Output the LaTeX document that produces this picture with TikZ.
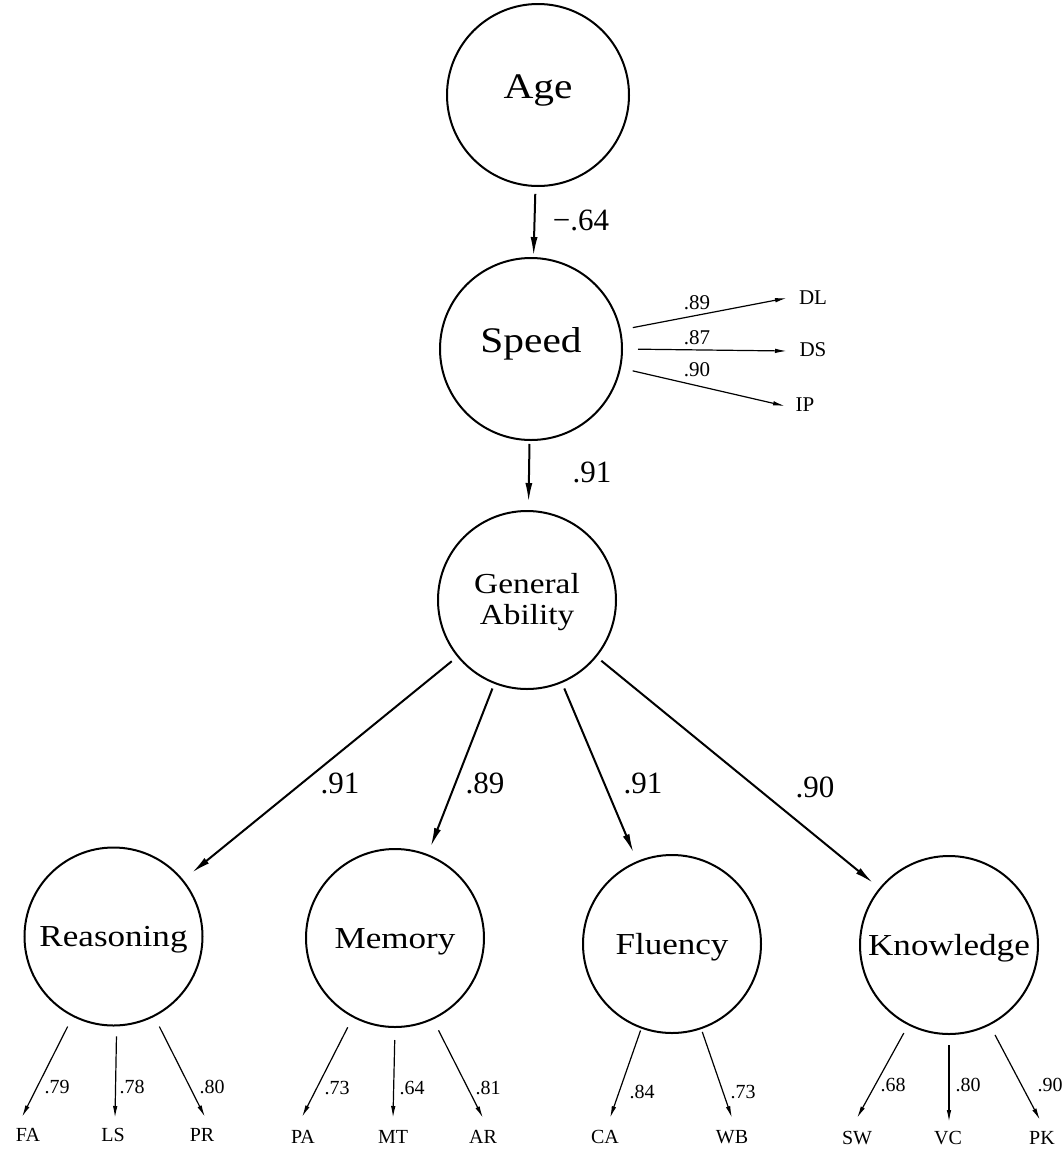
\documentclass[tikz,border=0pt]{standalone}
\usepackage{fontspec}
\usepackage{graphicx}
\setmainfont{Liberation Serif}
\usetikzlibrary{arrows.meta}
\newcommand\wideText[1]{\scalebox{1.15}[1]{#1}}
\begin{document}
\begin{tikzpicture}[x=1pt,y=-1pt,
  latent/.style={draw, circle, line width=2pt, inner sep=0pt, minimum size=178pt},
  toplatent/.style={latent, minimum size=182pt, font=\fontsize{36}{40}\selectfont, text height=26pt, text depth=20pt},
  botlatent/.style={latent, font=\fontsize{30.5}{34}\selectfont, text height=24pt, text depth=4pt},
  bigarrow/.style={line width=2pt, -{Latex[length=19pt,width=7pt]}},
  smallarrow/.style={line width=1.2pt, -{Latex[length=12pt,width=4.5pt]}},
  bignum/.style={font=\fontsize{31}{36}\selectfont, inner sep=0pt},
  midtext/.style={font=\fontsize{21}{24}\selectfont, inner sep=0pt},
  smalltext/.style={font=\fontsize{20}{24}\selectfont, inner sep=0pt},
]
\useasboundingbox (0,0) rectangle (1064,1152);

% latent variables
\node[toplatent] (age) at (538,95) {\wideText{Age}};
\node[toplatent] (speed) at (531,349) {\wideText{Speed}};
\node[latent, align=center, font=\fontsize{29}{31}\selectfont] (ga) at (527,600) {\rule{0pt}{25pt}\wideText{General}\\\wideText{Ability}};
\node[botlatent] (reason) at (113.5,936.5) {\wideText{Reasoning}};
\node[botlatent] (memory) at (395,938) {\wideText{Memory}};
\node[botlatent] (fluency) at (672,944) {\wideText{Fluency}};
\node[botlatent] (knowledge) at (949,945) {\wideText{Knowledge}};

% structural paths
\draw[bigarrow, shorten <=7pt, shorten >=1pt] (age) -- (speed);
\draw[bigarrow, shorten <=3pt, shorten >=8pt] (speed) -- (ga);
\draw[bigarrow, shorten <=7pt, shorten >=11pt] (ga) -- (reason);
\draw[bigarrow, shorten <=5pt, shorten >=8pt] (ga) -- (memory);
\draw[bigarrow, shorten <=6pt, shorten >=9pt] (ga) -- (fluency);
\draw[bigarrow, shorten <=6pt, shorten >=8pt] (ga) -- (knowledge);

\node[bignum] (lAS) at (581,220) {−.64};
\node[bignum] (lSG) at (592,472) {.91};
\node[bignum] (lGR) at (340,783) {.91};
\node[bignum] (lGM) at (485,783) {.89};
\node[bignum] (lGF) at (643,783) {.91};
\node[bignum] (lGK) at (815,787) {.90};

% speed indicators
\node[midtext] (dl) at (813,298) {DL};
\node[midtext] (ds) at (813,350) {DS};
\node[midtext] (ip) at (805,405) {IP};
\draw[smallarrow, shorten <=12pt] (speed.12) -- ([xshift=-26pt]dl.center);
\draw[smallarrow, shorten <=15pt] (speed.0) -- ([xshift=-26pt,yshift=-1pt]ds.center);
\draw[smallarrow, shorten <=12pt] (speed.348) -- ([xshift=-20pt,yshift=-1pt]ip.center);
\node[midtext] (lDL) at (697,303) {.89};
\node[midtext] (lDS) at (697,338) {.87};
\node[midtext] (lIP) at (697,370) {.90};

% bottom indicators
\node[smalltext] (fa) at (28,1135) {FA};
\node[smalltext] (ls) at (113,1135) {LS};
\node[smalltext] (pr) at (202,1135) {PR};
\node[smalltext] (pa) at (303,1137) {PA};
\node[smalltext] (mt) at (393,1137) {MT};
\node[smalltext] (ar) at (483,1137) {AR};
\node[smalltext] (ca) at (605,1137) {CA};
\node[smalltext] (wb) at (732,1137) {WB};
\node[smalltext] (sw) at (857,1138) {SW};
\node[smalltext] (vc) at (948,1138) {VC};
\node[smalltext] (pk) at (1042,1138) {PK};

\draw[smallarrow, shorten <=11pt] (reason.243) -- ([xshift=-6pt,yshift=18pt]fa.center);
\draw[smallarrow, shorten <=10pt] (reason.272) -- ([xshift=2pt,yshift=17pt]ls.center);
\draw[smallarrow, shorten <=11pt] (reason.297) -- ([xshift=3pt,yshift=18pt]pr.center);
\draw[smallarrow, shorten <=11pt] (memory.242) -- ([xshift=-1pt,yshift=20pt]pa.center);
\draw[smallarrow, shorten <=12pt] (memory.270) -- ([yshift=19pt]mt.center);
\draw[smallarrow, shorten <=12pt] (memory.295) -- ([yshift=19pt]ar.center);
\draw[smallarrow, shorten <=2pt] (fluency.250) -- ([xshift=5pt,yshift=19pt]ca.center);
\draw[smallarrow, shorten <=3pt] (fluency.289) -- ([yshift=19pt]wb.center);
\draw[smallarrow, shorten <=9pt] (knowledge.243) -- ([yshift=20pt]sw.center);
\draw[smallarrow, shorten <=10pt] (knowledge.270) -- ([xshift=1pt,yshift=16pt]vc.center);
\draw[smallarrow, shorten <=11pt] (knowledge.297) -- ([xshift=-2pt,yshift=18pt]pk.center);

\node[smalltext] (lFA) at (57,1087) {.79};
\node[smalltext] (lLS) at (132,1087) {.78};
\node[smalltext] (lPR) at (212,1087) {.80};
\node[smalltext] (lPA) at (337,1088) {.73};
\node[smalltext] (lMT) at (412,1088) {.64};
\node[smalltext] (lAR) at (488,1088) {.81};
\node[smalltext] (lCA) at (642,1092) {.84};
\node[smalltext] (lWB) at (743,1092) {.73};
\node[smalltext] (lSW) at (893,1085) {.68};
\node[smalltext] (lVC) at (968,1085) {.80};
\node[smalltext] (lPK) at (1050,1085) {.90};
\end{tikzpicture}
\end{document}
